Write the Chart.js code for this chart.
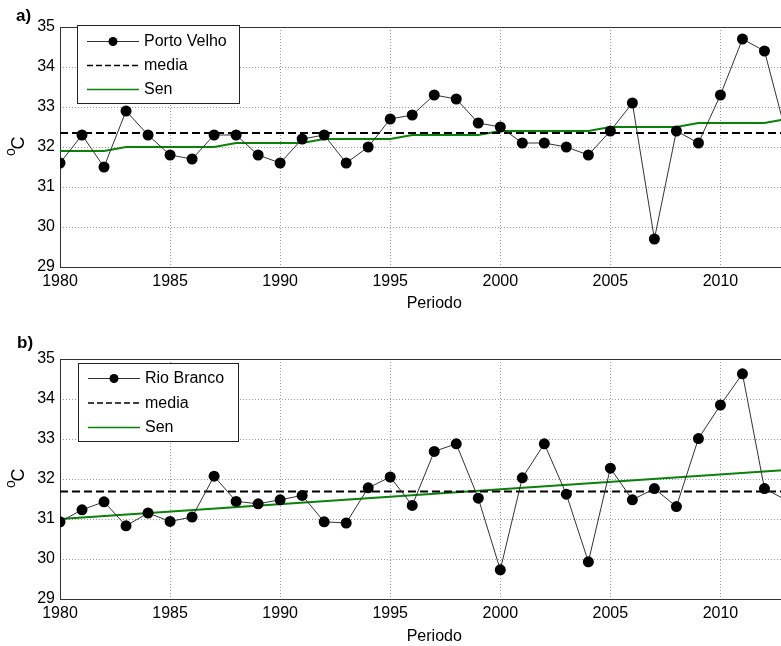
<!DOCTYPE html>
<html>
<head>
<meta charset="utf-8">
<script src="https://cdn.jsdelivr.net/npm/chart.js@4/dist/chart.umd.min.js"></script>
<style>
  html, body { margin: 0; padding: 0; background: #fff; }
  body { width: 781px; height: 646px; overflow: hidden; position: relative; }
  canvas { position: absolute; left: 0; }
  #panelA { top: 0; }
  #panelB { top: 323px; }
</style>
</head>
<body>
<canvas id="panelA" width="814" height="323"></canvas>
<canvas id="panelB" width="814" height="323"></canvas>
<script>
// Annual maximum temperature (°C), 1980-2013
const years = [1980, 1981, 1982, 1983, 1984, 1985, 1986, 1987, 1988, 1989,
               1990, 1991, 1992, 1993, 1994, 1995, 1996, 1997, 1998, 1999,
               2000, 2001, 2002, 2003, 2004, 2005, 2006, 2007, 2008, 2009,
               2010, 2011, 2012, 2013];

const portoVelho = [31.6, 32.3, 31.5, 32.9, 32.3, 31.8, 31.7, 32.3, 32.3, 31.8,
                    31.6, 32.2, 32.3, 31.6, 32.0, 32.7, 32.8, 33.3, 33.2, 32.6,
                    32.5, 32.1, 32.1, 32.0, 31.8, 32.4, 33.1, 29.7, 32.4, 32.1,
                    33.3, 34.7, 34.4, 32.3];
const portoVelhoMedia = 32.35;
const portoVelhoSen = [31.9, 31.9, 31.9, 32.0, 32.0, 32.0, 32.0, 32.0, 32.1, 32.1,
                       32.1, 32.1, 32.2, 32.2, 32.2, 32.2, 32.3, 32.3, 32.3, 32.3,
                       32.4, 32.4, 32.4, 32.4, 32.4, 32.5, 32.5, 32.5, 32.5, 32.6,
                       32.6, 32.6, 32.6, 32.7];

const rioBranco = [30.93, 31.23, 31.43, 30.83, 31.15, 30.94, 31.05, 32.07, 31.44, 31.38,
                   31.48, 31.59, 30.93, 30.90, 31.78, 32.05, 31.34, 32.69, 32.88, 31.52,
                   29.73, 32.03, 32.88, 31.62, 29.93, 32.27, 31.48, 31.76, 31.31, 33.01,
                   33.85, 34.63, 31.76, 31.47];
const rioBrancoMedia = 31.69;
const rioBrancoSenYears = [1980, 2014];
const rioBrancoSen = [31.0, 32.26];

const periodRange = [1980, 2014];
const xTickValues = [1980, 1985, 1990, 1995, 2000, 2005, 2010];
const yTickValues = [29, 30, 31, 32, 33, 34, 35];

const FONT = '"Liberation Sans", Arial, Helvetica, sans-serif';
const GREEN = '#0a820a';

function pairs(xs, ys) {
  return xs.map((x, i) => ({ x: x, y: ys[i] }));
}

function makePanel(canvasId, cfg) {
  const decorations = {
    id: 'decorations_' + canvasId,
    beforeDatasetsDraw(chart) {
      const { ctx, chartArea: a } = chart;
      ctx.save();
      ctx.strokeStyle = '#333';
      ctx.lineWidth = 1;
      ctx.strokeRect(Math.round(a.left) + 0.5, Math.round(a.top) + 0.5,
                     Math.round(a.right - a.left), Math.round(a.bottom - a.top));
      ctx.restore();
    },
    afterDraw(chart) {
      const { ctx, chartArea: a } = chart;
      ctx.save();
      // panel letter
      ctx.fillStyle = '#000';
      ctx.font = 'bold 17px ' + FONT;
      ctx.textAlign = 'left';
      ctx.textBaseline = 'alphabetic';
      ctx.fillText(cfg.letter, cfg.letterPos[0], cfg.letterPos[1]);

      // y-axis title: superscript o followed by C, rotated
      const cy = (a.top + a.bottom) / 2;
      ctx.translate(19, cy);
      ctx.rotate(-Math.PI / 2);
      ctx.textAlign = 'center';
      ctx.textBaseline = 'middle';
      ctx.font = '18px ' + FONT;
      ctx.fillText('C', 4, 0);
      ctx.font = '14px ' + FONT;
      ctx.fillText('o', -5, -8);
      ctx.restore();

      // legend box
      const L = cfg.legend;
      ctx.save();
      ctx.fillStyle = '#fff';
      ctx.fillRect(L.x, L.y, L.w, L.h);
      ctx.strokeStyle = '#222';
      ctx.lineWidth = 1;
      ctx.strokeRect(L.x + 0.5, L.y + 0.5, L.w, L.h);
      ctx.font = '16px ' + FONT;
      ctx.textAlign = 'left';
      ctx.textBaseline = 'middle';
      const x0 = L.x + 10, x1 = L.x + 62;
      chart.data.datasets.forEach((ds, i) => {
        const ry = L.y + L.rowTop + i * L.rowGap;
        ctx.save();
        ctx.strokeStyle = ds.borderColor;
        ctx.lineWidth = ds.legendWidth;
        ctx.setLineDash(ds.legendDash || []);
        ctx.beginPath();
        ctx.moveTo(x0, ry + 0.5);
        ctx.lineTo(x1, ry + 0.5);
        ctx.stroke();
        if (ds.pointRadius > 0) {
          ctx.setLineDash([]);
          ctx.fillStyle = ds.pointBackgroundColor;
          ctx.beginPath();
          ctx.arc((x0 + x1) / 2, ry + 0.5, 4.5, 0, Math.PI * 2);
          ctx.fill();
        }
        ctx.restore();
        ctx.fillStyle = '#000';
        ctx.fillText(ds.label, x1 + 5, ry + 1);
      });
      ctx.restore();
    }
  };

  return new Chart(document.getElementById(canvasId), {
    type: 'line',
    data: {
      datasets: [
        {
          label: cfg.station,
          data: pairs(years, cfg.values),
          borderColor: '#333',
          borderWidth: 1,
          pointRadius: 5.5,
          pointBackgroundColor: '#000',
          pointBorderColor: '#000',
          pointBorderWidth: 0,
          tension: 0,
          legendWidth: 1
        },
        {
          label: 'media',
          data: pairs(periodRange, [cfg.media, cfg.media]),
          borderColor: '#000',
          borderWidth: 2,
          borderDash: [8, 4],
          pointRadius: 0,
          legendWidth: 1.5,
          legendDash: [6, 3]
        },
        {
          label: 'Sen',
          data: pairs(cfg.senYears, cfg.sen),
          borderColor: GREEN,
          borderWidth: 2,
          pointRadius: 0,
          tension: 0,
          legendWidth: 1.5
        }
      ]
    },
    options: {
      responsive: false,
      animation: false,
      events: [],
      layout: { padding: { top: cfg.padTop, left: 0, right: 0, bottom: 0 } },
      plugins: { legend: { display: false }, tooltip: { enabled: false } },
      scales: {
        x: {
          type: 'linear',
          min: periodRange[0],
          max: periodRange[1],
          afterBuildTicks: s => { s.ticks = xTickValues.map(v => ({ value: v })); },
          afterFit: s => { s.height = cfg.xAxisHeight; },
          grid: { color: '#9a9a9a', lineWidth: 1, drawTicks: false },
          border: { display: false, dash: [1, 2] },
          ticks: {
            color: '#000',
            font: { family: FONT, size: 16 },
            padding: 5,
            maxRotation: 0,
            autoSkip: false,
            callback: v => String(v)
          },
          title: {
            display: true,
            text: 'Periodo',
            color: '#000',
            font: { family: FONT, size: 16 },
            padding: { top: 0, bottom: cfg.titlePadBottom }
          }
        },
        y: {
          type: 'linear',
          min: 29,
          max: 35,
          afterBuildTicks: s => { s.ticks = yTickValues.map(v => ({ value: v })); },
          afterFit: s => { s.width = 60; },
          grid: { color: '#9a9a9a', lineWidth: 1, drawTicks: false },
          border: { display: false, dash: [1, 2] },
          ticks: {
            color: '#000',
            font: { family: FONT, size: 16 },
            padding: 5
          }
        }
      }
    },
    plugins: [decorations]
  });
}

makePanel('panelA', {
  station: 'Porto Velho',
  values: portoVelho,
  media: portoVelhoMedia,
  senYears: years,
  sen: portoVelhoSen,
  letter: 'a)',
  letterPos: [16, 21],
  padTop: 27,
  xAxisHeight: 56,
  titlePadBottom: 10,
  legend: { x: 77, y: 25, w: 162, h: 78, rowTop: 16, rowGap: 24 }
});

makePanel('panelB', {
  station: 'Rio Branco',
  values: rioBranco,
  media: rioBrancoMedia,
  senYears: rioBrancoSenYears,
  sen: rioBrancoSen,
  letter: 'b)',
  letterPos: [17, 25],
  padTop: 36,
  xAxisHeight: 47,
  titlePadBottom: 0,
  legend: { x: 78, y: 40, w: 160, h: 78, rowTop: 15, rowGap: 24.5 }
});
</script>
</body>
</html>
